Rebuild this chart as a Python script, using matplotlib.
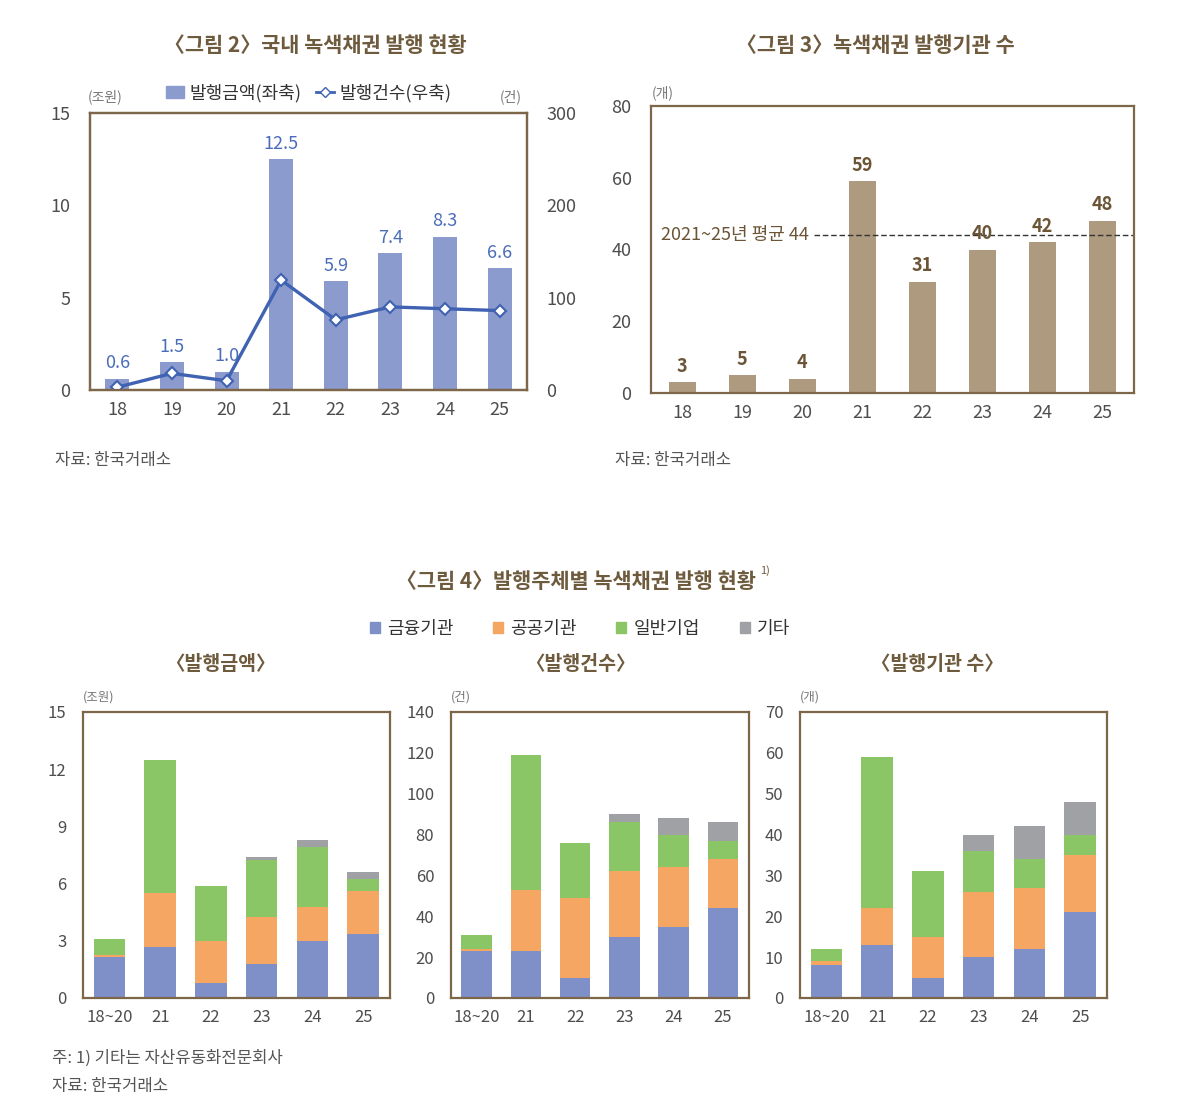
import numpy as np
import matplotlib
matplotlib.use("Agg")
import matplotlib.pyplot as plt
from matplotlib.lines import Line2D
from matplotlib.patches import Patch

plt.rcParams['font.family'] = ['Noto Sans CJK KR', 'DejaVu Sans']

# ---- data ----
years = ['18', '19', '20', '21', '22', '23', '24', '25']
amount = [0.6, 1.5, 1.0, 12.5, 5.9, 7.4, 8.3, 6.6]          # 조원
count = [3, 18, 10, 119, 76, 90, 88, 86]                     # 건
issuers = [3, 5, 4, 59, 31, 40, 42, 48]                      # 개
avg_label = '2021~25년 평균 44'
avg_value = 44

groups = ['18~20', '21', '22', '23', '24', '25']
series_names = ['금융기관', '공공기관', '일반기업', '기타']
amt_fin = [2.15, 2.7, 0.8, 1.8, 3.0, 3.35]
amt_pub = [0.1, 2.8, 2.2, 2.45, 1.75, 2.25]
amt_corp = [0.85, 7.0, 2.9, 3.0, 3.15, 0.65]
amt_etc = [0.0, 0.0, 0.0, 0.15, 0.4, 0.35]
cnt_fin = [23, 23, 10, 30, 35, 44]
cnt_pub = [1, 30, 39, 32, 29, 24]
cnt_corp = [7, 66, 27, 24, 16, 9]
cnt_etc = [0, 0, 0, 4, 8, 9]
iss_fin = [8, 13, 5, 10, 12, 21]
iss_pub = [1, 9, 10, 16, 15, 14]
iss_corp = [3, 37, 16, 10, 7, 5]
iss_etc = [0, 0, 0, 4, 8, 8]

# ---- style ----
W, H = 1200, 1104
frame_c = '#7D6748'
title_c = '#6E5A3C'
tick_c = '#4D4D4D'
bar_blue = '#8B9BCD'
line_blue = '#3F62B2'
lab_blue = '#4B6DB9'
tan = '#AE9B7F'
tan_txt = '#6B5536'
c_fin, c_pub, c_corp, c_etc = '#7F90C8', '#F5A663', '#8AC665', '#A0A1A5'


def box(l, t, r, b):
    return [l / W, 1 - b / H, (r - l) / W, (b - t) / H]


def style(ax):
    for s in ax.spines.values():
        s.set_color(frame_c)
        s.set_linewidth(1.6)
    ax.tick_params(length=0, labelsize=13, colors=tick_c, pad=8)


def ftext(x, y, s, **kw):
    fig.text(x / W, 1 - y / H, s, **kw)


fig = plt.figure(figsize=(W / 100, H / 100), dpi=100)

# ---- 그림 2 ----
ax1 = fig.add_axes(box(90, 113, 527, 390))
style(ax1)
x = np.arange(len(years))
ax1.bar(x, amount, width=0.44, color=bar_blue, label='발행금액(좌축)')
for xi, v in zip(x, amount):
    ax1.text(xi, v + 0.35, f'{v:.1f}', ha='center', va='bottom', fontsize=13,
             color=lab_blue)
ax1.set_xlim(-0.5, 7.5)
ax1.set_ylim(0, 15)
ax1.set_yticks([0, 5, 10, 15])
ax1.set_xticks(x, years)
ax1.tick_params(axis='y', pad=14)
ax1b = ax1.twinx()
ax1b.plot(x, count, color=line_blue, lw=2.4, marker='D', ms=6,
          mfc='white', mec=line_blue, mew=1.5, label='발행건수(우축)')
ax1b.set_ylim(0, 300)
ax1b.set_yticks([0, 100, 200, 300])
style(ax1b)
ax1b.tick_params(axis='y', pad=14)
h1 = [Patch(color=bar_blue), Line2D([], [], color=line_blue, lw=2, marker='D', ms=5,
                                     mfc='white', mec=line_blue)]
ax1.legend(h1, ['발행금액(좌축)', '발행건수(우축)'], loc='lower center',
           bbox_to_anchor=(0.5, 1.0), ncol=2, frameon=False, fontsize=13,
           handlelength=1.0, handletextpad=0.3, columnspacing=0.8,
           labelcolor='#333333', borderaxespad=0.2)
ftext(315, 45, '〈그림 2〉국내 녹색채권 발행 현황', ha='center', va='center',
      fontsize=15, fontweight='bold', color=title_c)
ftext(88, 97, '(조원)', fontsize=10, color='#777777', va='center')
ftext(500, 97, '(건)', fontsize=10, color='#777777', va='center')
ftext(55, 460, '자료: 한국거래소', fontsize=12, color='#555555', va='center')

# ---- 그림 3 ----
ax2 = fig.add_axes(box(651, 106, 1134, 393))
style(ax2)
ax2.bar(x, issuers, width=0.45, color=tan)
for xi, v in zip(x, issuers):
    ax2.text(xi, v + 1.8, str(v), ha='center', va='bottom', fontsize=13,
             color=tan_txt, fontweight='bold')
ax2.set_xlim(-0.52, 7.52)
ax2.set_ylim(0, 80)
ax2.set_yticks([0, 20, 40, 60, 80])
ax2.set_xticks(x, years)
ax2.tick_params(axis='y', pad=14)
ax2.plot([2.2, 7.52], [avg_value, avg_value], color='#333333', lw=1, ls=(0, (4, 2)))
ax2.text(2.1, avg_value, avg_label, ha='right', va='center', fontsize=13,
         color=tan_txt)
ftext(875, 45, '〈그림 3〉녹색채권 발행기관 수', ha='center', va='center',
      fontsize=15, fontweight='bold', color=title_c)
ftext(652, 93, '(개)', fontsize=10, color='#777777', va='center')
ftext(615, 460, '자료: 한국거래소', fontsize=12, color='#555555', va='center')

# ---- 그림 4 ----
panels = [
    (box(83, 712, 390, 998), [amt_fin, amt_pub, amt_corp, amt_etc], 15, [0, 3, 6, 9, 12, 15],
     '(조원)', '〈발행금액〉', 220),
    (box(451, 712, 749, 998), [cnt_fin, cnt_pub, cnt_corp, cnt_etc], 140,
     [0, 20, 40, 60, 80, 100, 120, 140], '(건)', '〈발행건수〉', 580),
    (box(800, 712, 1107, 998), [iss_fin, iss_pub, iss_corp, iss_etc], 70,
     [0, 10, 20, 30, 40, 50, 60, 70], '(개)', '〈발행기관 수〉', 937),
]
colors4 = [c_fin, c_pub, c_corp, c_etc]
gx = np.arange(len(groups))
for rect, series, ymax, yt, unit, sub, cx in panels:
    ax = fig.add_axes(rect)
    style(ax)
    bottom = np.zeros(len(groups))
    for vals, c, name in zip(series, colors4, series_names):
        ax.bar(gx, vals, bottom=bottom, width=0.62, color=c, label=name)
        bottom += np.array(vals)
    ax.set_xlim(-0.52, 5.53)
    ax.set_ylim(0, ymax)
    ax.set_yticks(yt)
    ax.set_xticks(gx, groups)
    ax.tick_params(labelsize=12)
    ax.tick_params(axis='y', pad=12)
    ftext(rect[0] * W, 697, unit, fontsize=9, color='#777777', va='center')
    ftext(cx, 665, sub, ha='center', va='center', fontsize=14, color=title_c,
          fontweight='bold')

h4 = [Patch(color=c) for c in colors4]
fig.legend(h4, series_names, loc='center', bbox_to_anchor=(580 / W, 1 - 629 / H),
           ncol=4, frameon=False, fontsize=13, handlelength=0.55, handleheight=0.55,
           handletextpad=0.4, columnspacing=2.2, labelcolor='#333333')
ftext(576, 581, '〈그림 4〉발행주체별 녹색채권 발행 현황', ha='center', va='center',
      fontsize=15, fontweight='bold', color=title_c)
ftext(760, 571, '1)', fontsize=8, color=title_c, va='center')
ftext(52, 1058, '주: 1) 기타는 자산유동화전문회사', fontsize=12, color='#555555', va='center')
ftext(52, 1087, '자료: 한국거래소', fontsize=12, color='#555555', va='center')

fig.savefig('out.png', dpi=100, facecolor='white')
